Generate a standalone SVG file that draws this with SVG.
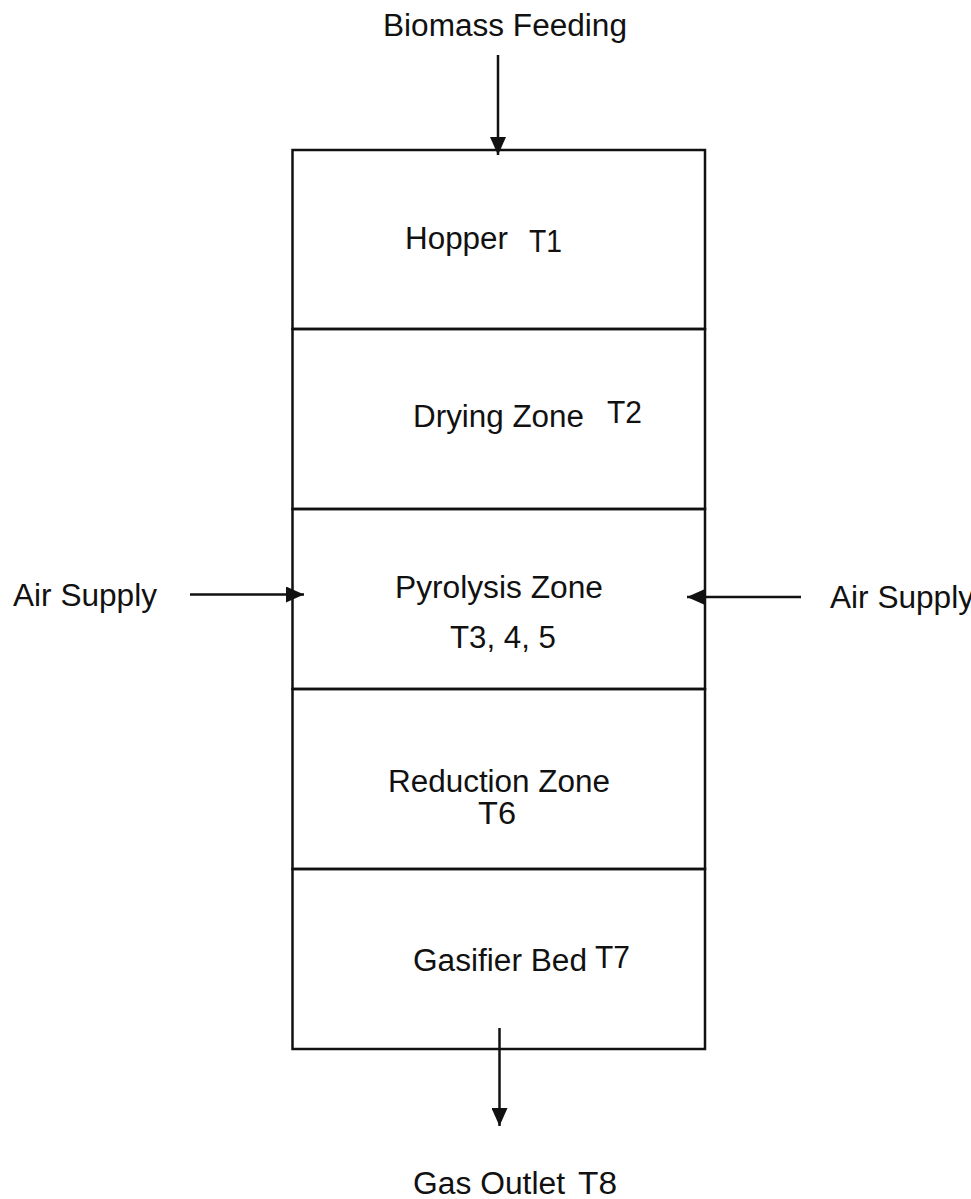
<svg xmlns="http://www.w3.org/2000/svg" width="971" height="1199" viewBox="0 0 971 1199">
  <defs>
    <style>
      .lbl { font-family: "Liberation Sans", Arial, sans-serif; font-size: 31px; fill: #111; }
      .wall { fill: none; stroke: #111; stroke-width: 2.5; }
      .flow { stroke: #111; stroke-width: 2.5; fill: none; }
    </style>
    <marker id="head" viewBox="0 0 18 16" refX="18" refY="8" markerWidth="18" markerHeight="16" markerUnits="userSpaceOnUse" orient="auto">
      <path d="M0,0 L18,8 L0,16 Z" fill="#111"/>
    </marker>
  </defs>
  <rect width="971" height="1199" fill="#ffffff"/>

  <!-- gasifier column -->
  <g id="hopper">
    <rect class="wall" x="292.5" y="150" width="412.5" height="179"/>
    <text class="lbl" x="405" y="249" textLength="103" lengthAdjust="spacingAndGlyphs">Hopper</text>
    <text class="lbl" x="529" y="252" textLength="33" lengthAdjust="spacingAndGlyphs">T1</text>
  </g>
  <g id="drying-zone">
    <rect class="wall" x="292.5" y="329" width="412.5" height="180"/>
    <text class="lbl" x="413" y="427" textLength="171" lengthAdjust="spacingAndGlyphs">Drying Zone</text>
    <text class="lbl" x="607" y="423" textLength="35" lengthAdjust="spacingAndGlyphs">T2</text>
  </g>
  <g id="pyrolysis-zone">
    <rect class="wall" x="292.5" y="509" width="412.5" height="180"/>
    <text class="lbl" x="395" y="598" textLength="208" lengthAdjust="spacingAndGlyphs">Pyrolysis Zone</text>
    <text class="lbl" x="450" y="648" textLength="106" lengthAdjust="spacingAndGlyphs">T3, 4, 5</text>
  </g>
  <g id="reduction-zone">
    <rect class="wall" x="292.5" y="689" width="412.5" height="180"/>
    <text class="lbl" x="388" y="792" textLength="222" lengthAdjust="spacingAndGlyphs">Reduction Zone</text>
    <text class="lbl" x="478" y="824" textLength="38" lengthAdjust="spacingAndGlyphs">T6</text>
  </g>
  <g id="gasifier-bed">
    <rect class="wall" x="292.5" y="869" width="412.5" height="180"/>
    <text class="lbl" x="413" y="971" textLength="174" lengthAdjust="spacingAndGlyphs">Gasifier Bed</text>
    <text class="lbl" x="595" y="968" textLength="35" lengthAdjust="spacingAndGlyphs">T7</text>
  </g>

  <!-- external streams -->
  <g id="biomass-feeding">
    <text class="lbl" x="383" y="36" textLength="244" lengthAdjust="spacingAndGlyphs">Biomass Feeding</text>
  </g>
  <g id="air-supply-left">
    <text class="lbl" x="13" y="606" textLength="144" lengthAdjust="spacingAndGlyphs">Air Supply</text>
  </g>
  <g id="air-supply-right">
    <text class="lbl" x="830" y="608" textLength="144" lengthAdjust="spacingAndGlyphs">Air Supply</text>
  </g>
  <g id="gas-outlet">
    <text class="lbl" x="413" y="1194" textLength="152" lengthAdjust="spacingAndGlyphs">Gas Outlet</text>
    <text class="lbl" x="578" y="1194" textLength="39" lengthAdjust="spacingAndGlyphs">T8</text>
  </g>

  <g id="connectors">
    <line class="flow" x1="498" y1="55" x2="498" y2="155" marker-end="url(#head)"/>
    <line class="flow" x1="190" y1="594.5" x2="304" y2="594.5" marker-end="url(#head)"/>
    <line class="flow" x1="801" y1="597" x2="687" y2="597" marker-end="url(#head)"/>
    <line class="flow" x1="499.5" y1="1028" x2="499.5" y2="1126" marker-end="url(#head)"/>
  </g>
</svg>
